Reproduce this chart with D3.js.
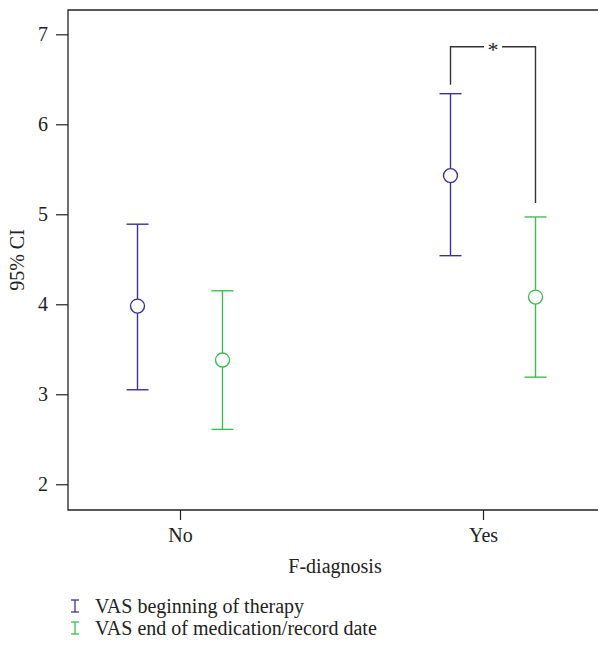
<!DOCTYPE html>
<html>
<head>
<meta charset="utf-8">
<script src="https://cdn.jsdelivr.net/npm/d3@7"></script>
<style>
  html, body { margin: 0; padding: 0; background: #fff; }
  svg text { font-family: "Liberation Serif", "DejaVu Serif", serif; fill: #222; }
</style>
</head>
<body>
<div id="chart"></div>
<script>
// Error-bar chart: VAS mean with 95% CI by F-diagnosis group.

const categories = ["No", "Yes"];
const seriesNames = ["VAS beginning of therapy", "VAS end of medication/record date"];
const seriesColors = ["#3b2f9e", "#3cbf4e"];
const means = [[3.98, 5.43], [3.38, 4.08]];
const lower = [[3.05, 4.54], [2.61, 3.19]];
const upper = [[4.89, 6.34], [4.15, 4.97]];
const yTicks = [2, 3, 4, 5, 6, 7];

const W = 598, H = 645;
const M = { top: 10, right: 0, bottom: 135, left: 68 };
const FS = "20px";

const svg = d3.select("#chart").append("svg")
  .attr("width", W).attr("height", H);

const y = d3.scaleLinear().domain([1.714, 7.27]).range([H - M.bottom, M.top]);
const x = d3.scalePoint().domain(categories).range([180, 483]);      // tick positions
const xBar = d3.scalePoint().domain(categories).range([180, 493]);   // group centres of the bars
const offset = d3.scalePoint().domain([0, 1]).range([-42.5, 42.5]);

// frame: left, top, bottom
svg.append("path")
  .attr("d", `M${W},${M.top}H${M.left}V${H - M.bottom}H${W}`)
  .attr("fill", "none").attr("stroke", "#222").attr("stroke-width", 1.3);

svg.append("g")
  .attr("transform", `translate(${M.left},0)`)
  .call(d3.axisLeft(y).tickValues(yTicks).tickSize(12).tickPadding(8).tickFormat(d3.format("d")))
  .call(g => g.select(".domain").remove())
  .call(g => g.selectAll(".tick line").attr("stroke", "#222").attr("stroke-width", 1.2))
  .call(g => g.selectAll(".tick text").style("font-size", FS).attr("fill", "#222"));

svg.append("g")
  .attr("transform", `translate(0,${H - M.bottom})`)
  .call(d3.axisBottom(x).tickSize(10).tickPadding(8))
  .call(g => g.select(".domain").remove())
  .call(g => g.selectAll(".tick line").attr("stroke", "#222").attr("stroke-width", 1.2))
  .call(g => g.selectAll(".tick text").style("font-size", FS).attr("fill", "#222"));

svg.append("text")
  .attr("transform", `translate(24,${(M.top + H - M.bottom) / 2}) rotate(-90)`)
  .attr("text-anchor", "middle")
  .style("font-size", FS)
  .text("95% CI");

svg.append("text")
  .attr("x", 335).attr("y", 573)
  .attr("text-anchor", "middle")
  .style("font-size", FS)
  .text("F-diagnosis");

// error bars
seriesNames.forEach((name, s) => {
  const g = svg.append("g").attr("stroke", seriesColors[s]).attr("fill", "none").attr("stroke-width", 1.4);
  categories.forEach((cat, i) => {
    const cx = xBar(cat) + offset(s);
    g.append("line").attr("x1", cx).attr("x2", cx).attr("y1", y(lower[s][i])).attr("y2", y(upper[s][i]));
    [lower[s][i], upper[s][i]].forEach(v => {
      g.append("line").attr("x1", cx - 11).attr("x2", cx + 11).attr("y1", y(v)).attr("y2", y(v));
    });
    g.append("circle").attr("cx", cx).attr("cy", y(means[s][i])).attr("r", 7).attr("fill", "#fff");
  });
});

// significance bracket for "Yes"
const bx1 = xBar("Yes") + offset(0), bx2 = xBar("Yes") + offset(1);
const by = 46.7;
const bracket = svg.append("g").attr("stroke", "#333").attr("stroke-width", 1.4).attr("fill", "none");
bracket.append("path").attr("d", `M${bx1},${y(upper[0][1]) - 9}V${by}H${(bx1 + bx2) / 2 - 9}`);
bracket.append("path").attr("d", `M${(bx1 + bx2) / 2 + 9},${by}H${bx2}V${y(upper[1][1]) - 14}`);
svg.append("text")
  .attr("x", (bx1 + bx2) / 2).attr("y", by + 10)
  .attr("text-anchor", "middle")
  .style("font-size", "22px")
  .text("*");

// legend
const legend = svg.append("g");
seriesNames.forEach((name, s) => {
  const ly = 606 + s * 22;
  const lx = 75;
  const mk = legend.append("g").attr("stroke", seriesColors[s]).attr("stroke-width", 1.3);
  mk.append("line").attr("x1", lx).attr("x2", lx).attr("y1", ly - 6).attr("y2", ly + 6);
  mk.append("line").attr("x1", lx - 4).attr("x2", lx + 4).attr("y1", ly - 6).attr("y2", ly - 6);
  mk.append("line").attr("x1", lx - 4).attr("x2", lx + 4).attr("y1", ly + 6).attr("y2", ly + 6);
  legend.append("text")
    .attr("x", 95).attr("y", ly + 6.5)
    .style("font-size", FS)
    .text(name);
});
</script>
</body>
</html>
